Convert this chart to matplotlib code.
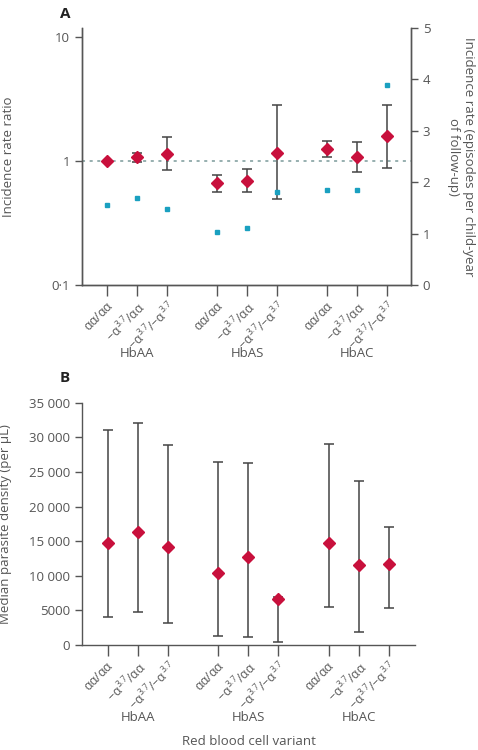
import matplotlib
matplotlib.use("Agg")
import matplotlib.pyplot as plt
import numpy as np

plt.rcParams['font.family'] = ['Open Sans', 'DejaVu Sans']
plt.rcParams['mathtext.fontset'] = 'custom'
plt.rcParams['mathtext.rm'] = 'Open Sans'
plt.rcParams['mathtext.it'] = 'Open Sans'

# ---- data ----
genotypes = [r"$\alpha\alpha/\alpha\alpha$",
             r"$-\alpha^{3.7}/\alpha\alpha$",
             r"$-\alpha^{3.7}/{-}\alpha^{3.7}$"]
groups = ["HbAA", "HbAS", "HbAC"]
positions = [0, 1, 2, 3.67, 4.67, 5.67, 7.33, 8.33, 9.33]

irr = [1.0, 1.08, 1.14, 0.66, 0.69, 1.17, 1.25, 1.07, 1.58]
irr_low = [1.0, 0.975, 0.85, 0.565, 0.565, 0.49, 1.07, 0.82, 0.87]
irr_high = [1.0, 1.17, 1.55, 0.775, 0.86, 2.83, 1.46, 1.41, 2.83]
inc_rate = [1.56, 1.70, 1.47, 1.04, 1.10, 1.80, 1.85, 1.85, 3.90]

dens_median = [14800, 16300, 14200, 10350, 12750, 6700, 14700, 11600, 11650]
dens_low = [4100, 4800, 3200, 1350, 1200, 500, 5500, 1900, 5300]
dens_high = [31000, 32100, 28900, 26400, 26300, 6900, 29000, 23700, 17100]

red = "#C8103C"
blue = "#1AA0C0"
grey = "#555555"
ebcol = "#444444"

fig = plt.figure(figsize=(4.78, 7.5), dpi=100)

def style_axis(ax):
    ax.tick_params(colors=grey, labelcolor=grey, labelsize=9.5, width=1, length=5)
    for s in ax.spines.values():
        s.set_color(grey)
        s.set_linewidth(1)

labels = genotypes * 3
xlab_fs = 8.8

# ---- Panel A ----
axA = fig.add_axes([82/478, 1-285/750, 329/478, 257/750])
axA.set_yscale('log')
axA.set_ylim(0.1, 11.8)
axA.set_xlim(-0.83, 10.13)
axA.axhline(1, color="#7A9A9A", lw=1.1, ls=(0, (2, 3)), zorder=1)
yerrA = [np.array(irr) - np.array(irr_low), np.array(irr_high) - np.array(irr)]
mask = [i for i in range(len(irr)) if i != 0]
axA.errorbar([positions[i] for i in mask], [irr[i] for i in mask],
             yerr=[yerrA[0][mask], yerrA[1][mask]], fmt='none',
             ecolor=ebcol, elinewidth=1.1, capsize=3.8, capthick=1.1, zorder=2)
axA.plot(positions, irr, ls='none', marker='D', ms=6, color=red, zorder=4)
axA.set_yticks([0.1, 1, 10])
axA.set_yticklabels(["0·1", "1", "10"])
axA.yaxis.set_minor_locator(matplotlib.ticker.NullLocator())
axA.set_xticks(positions)
axA.set_xticklabels(labels, rotation=45, ha='right', va='top', fontsize=xlab_fs,
                    rotation_mode='anchor')
axA.spines['top'].set_visible(False)
axA.set_ylabel("Incidence rate ratio", color=grey, fontsize=9.5)
axA.yaxis.set_label_coords(-0.205, 0.5)
style_axis(axA)
axA.tick_params(axis='x', length=8, labelsize=xlab_fs, pad=2)

axA2 = axA.twinx()
axA2.set_ylim(0, 5)
axA2.plot(positions, inc_rate, ls='none', marker='s', ms=3.5, color=blue, zorder=3)
axA2.set_yticks([0, 1, 2, 3, 4, 5])
axA2.set_ylabel("Incidence rate (episodes per child-year\nof follow-up)",
                color=grey, fontsize=9.5, rotation=270, va='center')
axA2.yaxis.set_label_coords(1.153, 0.5)
style_axis(axA2)
axA2.spines['top'].set_visible(False)

for gi, g in enumerate(groups):
    cx = np.mean(positions[gi*3:gi*3+3])
    axA.text(cx, -0.265, g, transform=axA.get_xaxis_transform(), ha='center',
             va='center', color=grey, fontsize=9.5)
fig.text(65/478, 1-14/750, "A", fontsize=11, fontweight='bold', color="#222222",
         ha='center', va='center')

# ---- Panel B ----
axB = fig.add_axes([82/478, 1-645/750, 333/478, 242.3/750])
axB.set_ylim(0, 35000)
axB.set_xlim(-0.85, 10.2)
yerrB = [np.array(dens_median) - np.array(dens_low),
         np.array(dens_high) - np.array(dens_median)]
axB.errorbar(positions, dens_median, yerr=yerrB, fmt='none', ecolor=ebcol,
             elinewidth=1.1, capsize=3.8, capthick=1.1, zorder=2)
axB.plot(positions, dens_median, ls='none', marker='D', ms=6, color=red, zorder=4)
axB.set_yticks(np.arange(0, 35001, 5000))
axB.set_yticklabels(["0", "5000", "10 000", "15 000", "20 000", "25 000",
                     "30 000", "35 000"])
axB.set_xticks(positions)
axB.set_xticklabels(labels, rotation=45, ha='right', va='top', fontsize=xlab_fs,
                    rotation_mode='anchor')
axB.spines['top'].set_visible(False)
axB.spines['right'].set_visible(False)
axB.set_ylabel("Median parasite density (per µL)", color=grey, fontsize=9.5)
axB.yaxis.set_label_coords(-0.21, 0.5)
style_axis(axB)
axB.tick_params(axis='x', length=8, labelsize=xlab_fs, pad=2)
for gi, g in enumerate(groups):
    cx = np.mean(positions[gi*3:gi*3+3])
    axB.text(cx, -0.30, g, transform=axB.get_xaxis_transform(), ha='center',
             va='center', color=grey, fontsize=9.5)
axB.text(0.5, -0.40, "Red blood cell variant", transform=axB.transAxes,
         ha='center', va='center', color=grey, fontsize=9.5)
fig.text(65/478, 1-378/750, "B", fontsize=11, fontweight='bold', color="#222222",
         ha='center', va='center')

fig.savefig("out.png", dpi=100)
